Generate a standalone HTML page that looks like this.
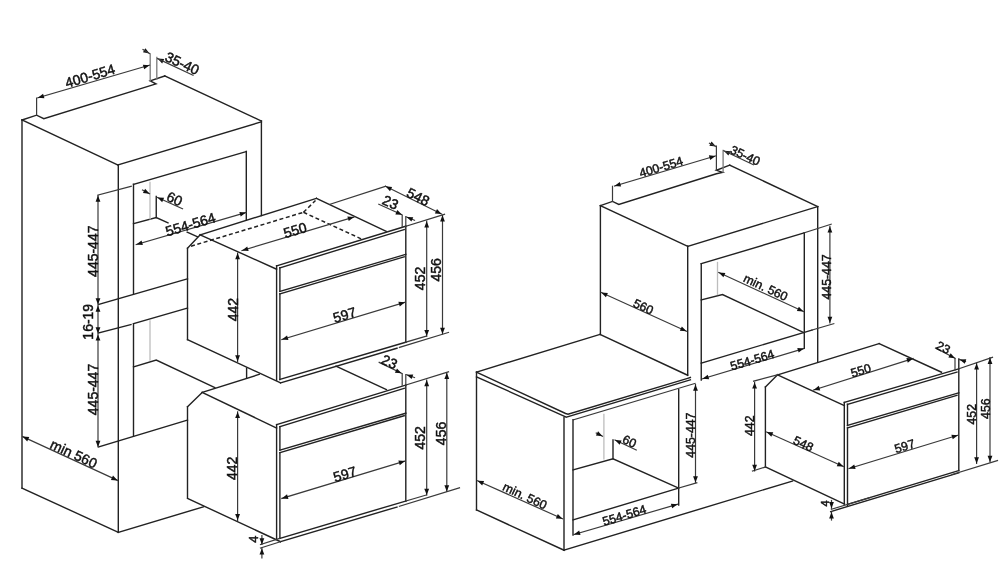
<!DOCTYPE html>
<html><head><meta charset="utf-8"><style>
html,body{margin:0;padding:0;background:#fff;}
svg{display:block;will-change:transform;}
line,polyline{stroke:#222;stroke-width:1.4;fill:none;stroke-linecap:square;}
.d{stroke:#3a3a3a;stroke-width:1.2;}
.g{stroke:#bdbdbd;stroke-width:1.3;}
.e{stroke:#7a7a7a;stroke-width:1.3;}
.ds{stroke-dasharray:4 2.6;stroke-width:1.5;stroke-linecap:butt;}
.ah{fill:#111;stroke:none;}
text{font-family:"Liberation Sans",sans-serif;fill:#111;stroke:#111;stroke-width:0.45;text-anchor:middle;dominant-baseline:central;}
</style></head><body>
<svg width="1000" height="580" viewBox="0 0 1000 580">
<line x1="22" y1="120" x2="22" y2="488.1"/>
<line x1="22" y1="120" x2="118" y2="165"/>
<line x1="118.3" y1="165" x2="118.3" y2="532.3"/>
<line x1="22" y1="488.1" x2="118.3" y2="532.3"/>
<line x1="118.3" y1="532.3" x2="203.5" y2="506.8"/>
<line x1="118" y1="165" x2="261.4" y2="121.8"/>
<line x1="261.4" y1="121" x2="261.4" y2="215.5"/>
<line x1="164.75" y1="76" x2="261.4" y2="121"/>
<polyline points="22,120 36.6,115.2 43.8,118.7 156,83.8 150.2,80.8 164.75,76"/>
<line x1="36.6" y1="98" x2="36.6" y2="115.2" class="d"/>
<line x1="150.2" y1="54" x2="150.2" y2="80.8" class="e"/>
<line x1="156.8" y1="57.5" x2="156.8" y2="79" class="e"/>
<line x1="37.8" y1="97.8" x2="149.5" y2="65.2" class="d"/>
<polygon points="37.80,97.80 43.08,93.76 44.42,98.37" class="ah"/>
<polygon points="149.50,65.20 144.22,69.24 142.88,64.63" class="ah"/>
<polygon points="149.50,53.50 142.95,52.37 145.42,48.25" class="ah"/>
<line x1="143" y1="49.6" x2="149.5" y2="53.5" class="d"/>
<text x="90.0" y="75.8" font-size="14" transform="rotate(-16.7 90.0 75.8)">400-554</text>
<polygon points="157.60,58.60 164.23,59.06 162.19,63.41" class="ah"/>
<line x1="157.6" y1="58.6" x2="193" y2="75.2" class="d"/>
<text x="182.3" y="63.3" font-size="14" transform="rotate(25.0 182.3 63.3)">35-40</text>
<line x1="133.5" y1="184.3" x2="246.3" y2="151.5"/>
<line x1="246.3" y1="151.5" x2="246.3" y2="220"/>
<line x1="133.5" y1="184.3" x2="133.5" y2="293.75"/>
<polyline points="133.5,223.75 156.25,217.5 168,222.8"/>
<line x1="187.2" y1="232.2" x2="197.6" y2="236.9"/>
<line x1="156.25" y1="196.5" x2="156.25" y2="217.5"/>
<line x1="150" y1="182.5" x2="150" y2="218.75" class="g"/>
<line x1="142.5" y1="190" x2="149.5" y2="193.75" class="d"/>
<polygon points="149.50,193.75 142.90,192.94 145.17,188.71" class="ah"/>
<line x1="157.5" y1="197.5" x2="182.5" y2="208.75" class="d"/>
<polygon points="157.50,197.50 164.14,197.86 162.17,202.23" class="ah"/>
<text x="174.6" y="198.7" font-size="14" transform="rotate(25.0 174.6 198.7)">60</text>
<line x1="136.25" y1="244.5" x2="246" y2="212.5" class="d"/>
<polygon points="136.25,244.50 141.53,240.46 142.87,245.07" class="ah"/>
<polygon points="246.00,212.50 240.72,216.54 239.38,211.93" class="ah"/>
<text x="190.4" y="224.3" font-size="14" transform="rotate(-16.7 190.4 224.3)">554-564</text>
<line x1="98.75" y1="304.5" x2="187.5" y2="278.75"/>
<line x1="98.75" y1="333" x2="131" y2="324.5"/>
<line x1="133.5" y1="323.6" x2="187.5" y2="308"/>
<line x1="133.5" y1="323.75" x2="133.5" y2="436.25"/>
<line x1="150" y1="321" x2="150" y2="360" class="g"/>
<polyline points="133.5,367 156.25,360 214.8,387.6"/>
<line x1="98.75" y1="447" x2="187.5" y2="420"/>
<line x1="98" y1="195" x2="131.25" y2="186.25" class="d"/>
<line x1="98" y1="195.5" x2="98" y2="304.5" class="d"/>
<polygon points="98.00,195.50 100.40,201.70 95.60,201.70" class="ah"/>
<polygon points="98.00,304.50 95.60,298.30 100.40,298.30" class="ah"/>
<text x="92.9" y="251.2" font-size="14" transform="rotate(-90 92.9 251.2)">445-447</text>
<line x1="98" y1="305.5" x2="98" y2="333.4" class="d"/>
<polygon points="98.00,305.50 100.40,311.70 95.60,311.70" class="ah"/>
<polygon points="98.00,333.40 95.60,327.20 100.40,327.20" class="ah"/>
<text x="88.25" y="321.75" font-size="14" transform="rotate(-90 88.25 321.75)">16-19</text>
<line x1="98" y1="334.4" x2="98" y2="447" class="d"/>
<polygon points="98.00,334.40 100.40,340.60 95.60,340.60" class="ah"/>
<polygon points="98.00,447.00 95.60,440.80 100.40,440.80" class="ah"/>
<text x="92.65" y="389.5" font-size="14" transform="rotate(-90 92.65 389.5)">445-447</text>
<line x1="22.6" y1="436.6" x2="117.6" y2="480.4" class="d"/>
<polygon points="22.60,436.60 29.24,437.02 27.23,441.38" class="ah"/>
<polygon points="117.60,480.40 110.96,479.98 112.97,475.62" class="ah"/>
<text x="73.75" y="453.65" font-size="14" transform="rotate(25.0 73.75 453.65)">min 560</text>
<line x1="276.6" y1="265.8" x2="276.6" y2="380.2"/>
<line x1="279.9" y1="267.8" x2="279.9" y2="291.3"/>
<line x1="279.9" y1="293.8" x2="279.9" y2="379.5"/>
<line x1="276.6" y1="265.8" x2="405.8" y2="226.2"/>
<line x1="279.9" y1="267.8" x2="404.2" y2="229.6"/>
<line x1="279.9" y1="291.3" x2="405.8" y2="254.4"/>
<line x1="279.9" y1="293.8" x2="404.2" y2="256.9"/>
<line x1="405.8" y1="226.2" x2="405.8" y2="342.2"/>
<line x1="279.9" y1="379.5" x2="405.8" y2="342.2"/>
<line x1="280.5" y1="382.9" x2="397" y2="348.2"/>
<line x1="399.4" y1="347.4" x2="448.5" y2="332.4" class="d"/>
<line x1="405.8" y1="342.2" x2="426.6" y2="336.1" class="d"/>
<line x1="281.8" y1="339.6" x2="405" y2="302.3" class="d"/>
<polygon points="281.80,339.60 287.04,335.51 288.43,340.10" class="ah"/>
<polygon points="405.00,302.30 399.76,306.39 398.37,301.80" class="ah"/>
<text x="344.55" y="314.75" font-size="14" transform="rotate(-16.7 344.55 314.75)">597</text>
<line x1="187.5" y1="339.6" x2="280.5" y2="382.9"/>
<line x1="405.8" y1="226.2" x2="444.5" y2="214.3" class="d"/>
<line x1="426.7" y1="221.2" x2="426.7" y2="336.1" class="d"/>
<polygon points="426.70,221.20 429.10,227.40 424.30,227.40" class="ah"/>
<polygon points="426.70,336.10 424.30,329.90 429.10,329.90" class="ah"/>
<line x1="442.5" y1="215.31" x2="442.5" y2="333.93" class="d"/>
<polygon points="442.50,215.31 444.90,221.51 440.10,221.51" class="ah"/>
<polygon points="442.50,333.93 440.10,327.73 444.90,327.73" class="ah"/>
<text x="419.85" y="278.45" font-size="14" transform="rotate(-90 419.85 278.45)">452</text>
<text x="436.05" y="269.8" font-size="14" transform="rotate(-90 436.05 269.8)">456</text>
<line x1="237.6" y1="253" x2="237.6" y2="361.5" class="d"/>
<polygon points="237.60,253.00 240.00,259.20 235.20,259.20" class="ah"/>
<polygon points="237.60,361.50 235.20,355.30 240.00,355.30" class="ah"/>
<text x="232.6" y="309.55" font-size="14" transform="rotate(-90 232.6 309.55)">442</text>
<line x1="187.5" y1="248.3" x2="187.5" y2="339.6"/>
<line x1="187.5" y1="248.3" x2="200.2" y2="234.8"/>
<line x1="200.2" y1="234.8" x2="276.6" y2="269.2"/>
<line x1="200.2" y1="234.8" x2="316.5" y2="198.3"/>
<line x1="316.5" y1="198.3" x2="386.2" y2="231.3"/>
<line x1="191" y1="246.2" x2="303.5" y2="212.3" class="ds"/>
<line x1="303.5" y1="212.3" x2="315.5" y2="200.5" class="ds"/>
<line x1="303.5" y1="212.3" x2="361.5" y2="239" class="ds"/>
<line x1="242" y1="250.5" x2="354" y2="217" class="d"/>
<polygon points="242.00,250.50 247.25,246.42 248.63,251.02" class="ah"/>
<polygon points="354.00,217.00 348.75,221.08 347.37,216.48" class="ah"/>
<text x="295.1" y="230.05" font-size="14" transform="rotate(-16.7 295.1 230.05)">550</text>
<line x1="330" y1="204.3" x2="385.5" y2="186.3" class="d"/>
<line x1="385.5" y1="186.3" x2="441.5" y2="214" class="d"/>
<polygon points="385.50,186.30 392.12,186.90 389.99,191.20" class="ah"/>
<polygon points="441.50,214.00 434.88,213.40 437.01,209.10" class="ah"/>
<text x="418.2" y="196.7" font-size="14" transform="rotate(26.3 418.2 196.7)">548</text>
<line x1="402.2" y1="215.5" x2="402.2" y2="226.6" class="d"/>
<line x1="405.8" y1="216.5" x2="405.8" y2="226.2" class="d"/>
<line x1="378.8" y1="204.3" x2="402" y2="214.8" class="d"/>
<polygon points="402.00,214.80 395.36,214.43 397.34,210.06" class="ah"/>
<line x1="406.6" y1="217" x2="414.5" y2="220.3" class="d"/>
<polygon points="406.60,217.00 413.25,217.18 411.40,221.60" class="ah"/>
<text x="390.5" y="202.25" font-size="14" transform="rotate(25 390.5 202.25)">23</text>
<line x1="276.6" y1="424.6" x2="276.6" y2="539.0"/>
<line x1="279.9" y1="426.6" x2="279.9" y2="450.1"/>
<line x1="279.9" y1="452.6" x2="279.9" y2="538.3"/>
<line x1="276.6" y1="424.6" x2="405.8" y2="385.0"/>
<line x1="279.9" y1="426.6" x2="404.2" y2="388.4"/>
<line x1="279.9" y1="450.1" x2="405.8" y2="413.2"/>
<line x1="279.9" y1="452.6" x2="404.2" y2="415.7"/>
<line x1="405.8" y1="385.0" x2="405.8" y2="501.0"/>
<line x1="279.9" y1="538.3" x2="405.8" y2="501.0"/>
<line x1="280.5" y1="541.7" x2="397" y2="507.0"/>
<line x1="399.4" y1="506.2" x2="459.5" y2="487.84" class="d"/>
<line x1="405.8" y1="501.0" x2="426.6" y2="494.9" class="d"/>
<line x1="281.8" y1="498.4" x2="405" y2="461.1" class="d"/>
<polygon points="281.80,498.40 287.04,494.31 288.43,498.90" class="ah"/>
<polygon points="405.00,461.10 399.76,465.19 398.37,460.60" class="ah"/>
<text x="344.75" y="474.05" font-size="14" transform="rotate(-16.7 344.75 474.05)">597</text>
<line x1="187.5" y1="498.4" x2="280.5" y2="541.7"/>
<line x1="405.8" y1="385.0" x2="448.5" y2="371.87" class="d"/>
<line x1="426.7" y1="380.0" x2="426.7" y2="494.9" class="d"/>
<polygon points="426.70,380.00 429.10,386.20 424.30,386.20" class="ah"/>
<polygon points="426.70,494.90 424.30,488.70 429.10,488.70" class="ah"/>
<line x1="446.8" y1="372.79" x2="446.8" y2="491.42" class="d"/>
<polygon points="446.80,372.79 449.20,378.99 444.40,378.99" class="ah"/>
<polygon points="446.80,491.42 444.40,485.22 449.20,485.22" class="ah"/>
<text x="419.85" y="437.85" font-size="14" transform="rotate(-90 419.85 437.85)">452</text>
<text x="440.55" y="433.45" font-size="14" transform="rotate(-90 440.55 433.45)">456</text>
<line x1="237.6" y1="411.8" x2="237.6" y2="520.3" class="d"/>
<polygon points="237.60,411.80 240.00,418.00 235.20,418.00" class="ah"/>
<polygon points="237.60,520.30 235.20,514.10 240.00,514.10" class="ah"/>
<text x="231.75" y="468.4" font-size="14" transform="rotate(-90 231.75 468.4)">442</text>
<line x1="187.5" y1="406.8" x2="187.5" y2="497.5"/>
<line x1="187.5" y1="406.8" x2="202.2" y2="392.4"/>
<line x1="202.2" y1="392.4" x2="276.6" y2="428"/>
<line x1="202.2" y1="392.4" x2="259.2" y2="374.4"/>
<line x1="336" y1="366.2" x2="386.4" y2="389.6"/>
<line x1="246.6" y1="368.2" x2="246.6" y2="378.2"/>
<line x1="402.2" y1="373.5" x2="402.2" y2="385.2" class="d"/>
<line x1="405.8" y1="374.5" x2="405.8" y2="384.7" class="d"/>
<line x1="379.2" y1="362.4" x2="401.5" y2="373.3" class="d"/>
<polygon points="401.50,373.30 394.88,372.73 396.98,368.42" class="ah"/>
<line x1="406.6" y1="374.7" x2="414.5" y2="377.5" class="d"/>
<polygon points="406.60,374.70 413.25,374.51 411.64,379.03" class="ah"/>
<text x="389.5" y="361.7" font-size="14" transform="rotate(25 389.5 361.7)">23</text>
<line x1="260.5" y1="544.6" x2="279.9" y2="538.3" class="d"/>
<line x1="260.5" y1="548.0" x2="280.5" y2="541.7" class="d"/>
<line x1="261.9" y1="535.6" x2="261.9" y2="544.4" class="d"/>
<polygon points="261.90,544.40 259.50,538.20 264.30,538.20" class="ah"/>
<line x1="261.9" y1="548.4" x2="261.9" y2="557.9" class="d"/>
<polygon points="261.90,548.40 264.30,554.60 259.50,554.60" class="ah"/>
<text x="253.6" y="539.2" font-size="13" transform="rotate(-90 253.6 539.2)">4</text>
<line x1="600.4" y1="205.6" x2="600.4" y2="334.5"/>
<line x1="600.4" y1="205.6" x2="687.7" y2="246.3"/>
<line x1="687.7" y1="246.3" x2="687.7" y2="375.2"/>
<line x1="687.7" y1="246.3" x2="817.7" y2="206.6"/>
<line x1="817.7" y1="206.6" x2="817.7" y2="362"/>
<line x1="729.7" y1="165.2" x2="817.7" y2="206.6"/>
<polyline points="600.4,205.6 612.5,201.4 618.8,204.5 716.4,173.8 722.6,172.4 716.4,170.3 729.7,165.2"/>
<line x1="612.5" y1="186.3" x2="612.5" y2="201.4" class="d"/>
<line x1="716.4" y1="146.2" x2="716.4" y2="170.3" class="d"/>
<line x1="723.1" y1="150.5" x2="723.1" y2="172.1" class="e"/>
<line x1="614.5" y1="186" x2="715.5" y2="155.9" class="d"/>
<polygon points="614.50,186.00 619.76,181.93 621.13,186.53" class="ah"/>
<polygon points="715.50,155.90 710.24,159.97 708.87,155.37" class="ah"/>
<polygon points="716.00,146.40 709.38,145.81 711.50,141.51" class="ah"/>
<line x1="709.5" y1="143.2" x2="716" y2="146.4" class="d"/>
<text x="661.15" y="167.2" font-size="12.3" transform="rotate(-16.7 661.15 167.2)">400-554</text>
<polygon points="723.80,150.70 730.43,151.18 728.38,155.52" class="ah"/>
<line x1="723.8" y1="150.7" x2="753.4" y2="164.7" class="d"/>
<text x="745.15" y="155.7" font-size="12.3" transform="rotate(25.0 745.15 155.7)">35-40</text>
<line x1="701.25" y1="263.75" x2="804.3" y2="232.8"/>
<line x1="804.3" y1="232.8" x2="804.3" y2="348.4"/>
<line x1="701.25" y1="263.75" x2="701.25" y2="380"/>
<line x1="701.25" y1="363.2" x2="812" y2="330"/>
<polyline points="701.25,300 722.5,294.5 803.75,332.5"/>
<line x1="717.5" y1="262.5" x2="717.5" y2="294.5" class="g"/>
<line x1="718.75" y1="272.5" x2="803.5" y2="311.5" class="d"/>
<polygon points="718.75,272.50 725.39,272.91 723.38,277.27" class="ah"/>
<polygon points="803.50,311.50 796.86,311.09 798.87,306.73" class="ah"/>
<text x="765.55" y="287.65" font-size="12.3" transform="rotate(25.0 765.55 287.65)">min. 560</text>
<line x1="601.25" y1="292.5" x2="686.5" y2="331.2" class="d"/>
<polygon points="601.25,292.50 607.89,292.88 605.90,297.25" class="ah"/>
<polygon points="686.50,331.20 679.86,330.82 681.85,326.45" class="ah"/>
<text x="643.3" y="306.85" font-size="12.3" transform="rotate(25.0 643.3 306.85)">560</text>
<line x1="702.5" y1="378.8" x2="803.9" y2="348.5" class="d"/>
<polygon points="702.50,378.80 707.75,374.73 709.13,379.32" class="ah"/>
<polygon points="803.90,348.50 798.65,352.57 797.27,347.98" class="ah"/>
<text x="752.35" y="360.25" font-size="12.3" transform="rotate(-16.7 752.35 360.25)">554-564</text>
<line x1="804.3" y1="232.8" x2="831.2" y2="224.2" class="d"/>
<line x1="812" y1="330" x2="833.8" y2="323.7" class="d"/>
<line x1="829.9" y1="226.4" x2="829.9" y2="322.9" class="d"/>
<polygon points="829.90,226.40 832.30,232.60 827.50,232.60" class="ah"/>
<polygon points="829.90,322.90 827.50,316.70 832.30,316.70" class="ah"/>
<text x="826.6" y="276.95" font-size="12.3" transform="rotate(-90 826.6 276.95)">445-447</text>
<line x1="600" y1="334.5" x2="687.6" y2="375.2"/>
<line x1="476.5" y1="372.1" x2="599.4" y2="334.5"/>
<polyline points="476.5,372.1 565.6,413.5 568,414.2 687.6,378.4 690.4,377.5"/>
<line x1="476.5" y1="376.8" x2="565.6" y2="416.8"/>
<line x1="566.4" y1="417.2" x2="690.4" y2="379.8"/>
<line x1="573.5" y1="419.8" x2="695" y2="383.4" class="d"/>
<line x1="476.5" y1="372.1" x2="476.5" y2="510"/>
<line x1="564" y1="417.5" x2="564" y2="550.2"/>
<line x1="476.5" y1="510" x2="564" y2="550.2"/>
<line x1="564" y1="550.2" x2="792.5" y2="481"/>
<line x1="573" y1="419.8" x2="573" y2="535"/>
<line x1="678.7" y1="389.8" x2="678.7" y2="505"/>
<line x1="573" y1="520" x2="678.7" y2="488"/>
<polyline points="573,470 613,458.75 677.5,487.5"/>
<line x1="603.9" y1="414.5" x2="603.9" y2="458.75" class="g"/>
<line x1="613" y1="440" x2="613" y2="458.75"/>
<line x1="596.25" y1="433" x2="602.5" y2="436.25" class="d"/>
<polygon points="602.50,436.25 595.89,435.52 598.11,431.26" class="ah"/>
<line x1="615" y1="440" x2="636.25" y2="450" class="d"/>
<polygon points="615.00,440.00 621.63,440.47 619.59,444.81" class="ah"/>
<text x="629.5" y="441.6" font-size="12.3" transform="rotate(25.0 629.5 441.6)">60</text>
<line x1="695.5" y1="384.5" x2="695.5" y2="482.5" class="d"/>
<polygon points="695.50,384.50 697.90,390.70 693.10,390.70" class="ah"/>
<polygon points="695.50,482.50 693.10,476.30 697.90,476.30" class="ah"/>
<text x="691.2" y="435.1" font-size="12.3" transform="rotate(-90 691.2 435.1)">445-447</text>
<line x1="678.7" y1="488" x2="696.8" y2="482.8" class="d"/>
<line x1="477.5" y1="480.75" x2="562.5" y2="518.75" class="d"/>
<polygon points="477.50,480.75 484.14,481.09 482.18,485.47" class="ah"/>
<polygon points="562.50,518.75 555.86,518.41 557.82,514.03" class="ah"/>
<text x="524.7" y="496.1" font-size="12.3" transform="rotate(25.0 524.7 496.1)">min. 560</text>
<line x1="573.9" y1="534.5" x2="677.5" y2="504.3" class="d"/>
<polygon points="573.90,534.50 579.18,530.46 580.52,535.07" class="ah"/>
<polygon points="677.50,504.30 672.22,508.34 670.88,503.73" class="ah"/>
<text x="624.4" y="515.55" font-size="12.3" transform="rotate(-16.7 624.4 515.55)">554-564</text>
<line x1="765.4" y1="387" x2="765.4" y2="467"/>
<line x1="765.4" y1="387" x2="777.6" y2="374.8"/>
<line x1="777.6" y1="374.8" x2="879.2" y2="343.6"/>
<line x1="879.2" y1="343.6" x2="941.5" y2="372.2"/>
<line x1="777.6" y1="374.8" x2="844.3" y2="405.5"/>
<line x1="765.4" y1="467" x2="844.5" y2="504.1"/>
<line x1="844.3" y1="402.5" x2="844.3" y2="504.1"/>
<line x1="847.5" y1="404.3" x2="847.5" y2="425.5"/>
<line x1="847.5" y1="428" x2="847.5" y2="505.9"/>
<line x1="844.3" y1="402.5" x2="958.8" y2="368.8"/>
<line x1="847.5" y1="404.3" x2="957" y2="372"/>
<line x1="847.5" y1="425.5" x2="958.8" y2="392.8"/>
<line x1="847.5" y1="428" x2="957" y2="395.3"/>
<line x1="958.8" y1="359" x2="958.8" y2="470.5"/>
<line x1="847.5" y1="504.5" x2="958.8" y2="470.5"/>
<line x1="831.4" y1="509.2" x2="870" y2="497.5" class="d"/>
<line x1="830.7" y1="511.6" x2="958.8" y2="472.8"/>
<line x1="952" y1="474.5" x2="997.5" y2="460.5" class="d"/>
<line x1="958.8" y1="368.8" x2="992.5" y2="357.3" class="d"/>
<line x1="753.6" y1="381.2" x2="777.6" y2="374.8" class="d"/>
<line x1="752.5" y1="471" x2="765.4" y2="467" class="d"/>
<line x1="754.6" y1="382.4" x2="754.6" y2="471" class="d"/>
<polygon points="754.60,382.40 757.00,388.60 752.20,388.60" class="ah"/>
<polygon points="754.60,471.00 752.20,464.80 757.00,464.80" class="ah"/>
<text x="750.5" y="425.7" font-size="12.3" transform="rotate(-90 750.5 425.7)">442</text>
<line x1="766.6" y1="432" x2="843.4" y2="466.5" class="d"/>
<polygon points="766.60,432.00 773.24,432.35 771.27,436.73" class="ah"/>
<polygon points="843.40,466.50 836.76,466.15 838.73,461.77" class="ah"/>
<text x="803.3" y="444.0" font-size="12.3" transform="rotate(25.0 803.3 444.0)">548</text>
<line x1="849" y1="468.6" x2="958" y2="435.2" class="d"/>
<polygon points="849.00,468.60 854.22,464.49 855.63,469.08" class="ah"/>
<polygon points="958.00,435.20 952.78,439.31 951.37,434.72" class="ah"/>
<text x="904.75" y="446.5" font-size="12.3" transform="rotate(-16.7 904.75 446.5)">597</text>
<line x1="813.6" y1="390" x2="913" y2="358.5" class="d"/>
<polygon points="813.60,390.00 818.79,385.84 820.24,390.41" class="ah"/>
<polygon points="913.00,358.50 907.81,362.66 906.36,358.09" class="ah"/>
<text x="860.85" y="370.65" font-size="12.3" transform="rotate(-16.7 860.85 370.65)">550</text>
<line x1="955" y1="358.5" x2="955" y2="369.8" class="d"/>
<line x1="935.5" y1="348" x2="955" y2="358.3" class="d"/>
<polygon points="955.00,358.30 948.40,357.53 950.64,353.28" class="ah"/>
<line x1="959.6" y1="359.6" x2="965.5" y2="361.5" class="d"/>
<polygon points="959.60,359.60 966.24,359.22 964.77,363.78" class="ah"/>
<text x="943.25" y="347.7" font-size="12.3" transform="rotate(27 943.25 347.7)">23</text>
<line x1="976.6" y1="363.2" x2="976.6" y2="463.5" class="d"/>
<polygon points="976.60,363.20 979.00,369.40 974.20,369.40" class="ah"/>
<polygon points="976.60,463.50 974.20,457.30 979.00,457.30" class="ah"/>
<text x="972.1" y="414.2" font-size="12.3" transform="rotate(-90 972.1 414.2)">452</text>
<line x1="990" y1="357.7" x2="990" y2="462" class="d"/>
<polygon points="990.00,357.70 992.40,363.90 987.60,363.90" class="ah"/>
<polygon points="990.00,462.00 987.60,455.80 992.40,455.80" class="ah"/>
<text x="985.55" y="408.65" font-size="12.3" transform="rotate(-90 985.55 408.65)">456</text>
<line x1="831.5" y1="500.5" x2="831.5" y2="508.3" class="d"/>
<polygon points="831.50,508.30 829.10,502.10 833.90,502.10" class="ah"/>
<line x1="831.5" y1="512.2" x2="831.5" y2="520" class="d"/>
<polygon points="831.50,512.20 833.90,518.40 829.10,518.40" class="ah"/>
<text x="824.7" y="503.5" font-size="11" transform="rotate(-90 824.7 503.5)">4</text>
</svg>
</body></html>
